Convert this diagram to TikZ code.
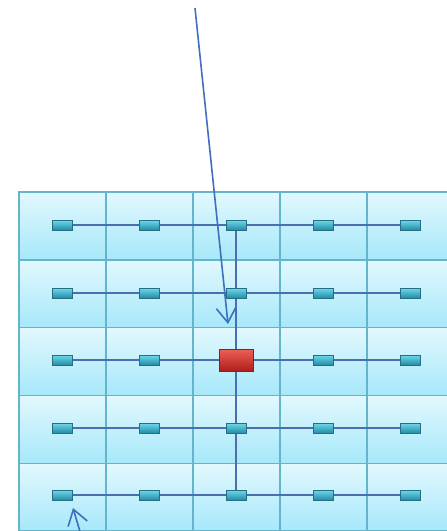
\documentclass[tikz,border=0pt]{standalone}
\usetikzlibrary{arrows.meta,shadows}
\pgfdeclarelayer{cellslayer}
\pgfdeclarelayer{lineslayer}
\pgfsetlayers{cellslayer,lineslayer,main}
\definecolor{celltop}{RGB}{226,248,254}
\definecolor{cellbot}{RGB}{166,232,250}
\definecolor{cellline}{RGB}{100,180,204}
\definecolor{nodetop}{RGB}{110,218,236}
\definecolor{nodebot}{RGB}{34,140,166}
\definecolor{nodeedge}{RGB}{40,110,130}
\definecolor{redtop}{RGB}{236,96,86}
\definecolor{redbot}{RGB}{176,30,26}
\definecolor{rededge}{RGB}{140,30,26}
\definecolor{linkcol}{RGB}{74,110,178}
\definecolor{arrowcol}{RGB}{62,112,190}
\tikzset{
  cellbox/.style={draw=cellline,line width=1.4pt,top color=celltop,bottom color=cellbot},
  smallnode/.style={rectangle,minimum width=20pt,minimum height=10pt,inner sep=0pt,
    top color=nodetop,bottom color=nodebot,draw=nodeedge,line width=0.4pt,
    drop shadow={shadow xshift=0.8pt,shadow yshift=-0.8pt,opacity=0.35}},
  bignode/.style={rectangle,minimum width=34pt,minimum height=22pt,inner sep=0pt,
    top color=redtop,bottom color=redbot,draw=rededge,line width=0.4pt,
    drop shadow={shadow xshift=0.8pt,shadow yshift=-0.8pt,opacity=0.35}},
  link/.style={draw=linkcol,line width=1.8pt},
  pointer/.style={draw=arrowcol,line width=1.6pt,-{Straight Barb[length=15pt,width=20pt,line width=1.6pt]}}
}
\begin{document}
\begin{tikzpicture}[x=1pt,y=-1pt]
\useasboundingbox (0,0) rectangle (447,531);
\clip (0,0) rectangle (447,531);
% cells
\begin{pgfonlayer}{cellslayer}
\foreach \c in {0,...,4}{
  \foreach \r in {0,...,4}{
    \path[cellbox] ({19+87*\c},{192+67.8*\r}) rectangle ({19+87*(\c+1)},{192+67.8*(\r+1)});
  }
}
\end{pgfonlayer}
% nodes
\foreach \r/\y in {1/225,2/293,3/360,4/428,5/495}{
  \foreach \c/\x in {1/62,2/149,3/236,4/323,5/410}{
    \ifnum\r=3 \ifnum\c=3 \else
      \node[smallnode] (n-\r-\c) at (\x,\y) {};
    \fi\else
      \node[smallnode] (n-\r-\c) at (\x,\y) {};
    \fi
  }
}
\node[bignode] (n-3-3) at (236,360) {};
% links
\begin{pgfonlayer}{lineslayer}
\foreach \r in {1,...,5}{
  \draw[link] (n-\r-1.center) -- (n-\r-2.center) -- (n-\r-3.center) -- (n-\r-4.center) -- (n-\r-5.center);
}
\draw[link] (n-1-3.center) -- (n-2-3.center) -- (n-3-3.center) -- (n-4-3.center) -- (n-5-3.center);
\end{pgfonlayer}
% arrows
\coordinate (topstart) at (195,8);
\coordinate (toptip) at (228,324);
\draw[pointer] (topstart) -- (toptip);
\coordinate (botstart) at (81,535);
\coordinate (bottip) at (73,508);
\draw[pointer] (botstart) -- (bottip);
\end{tikzpicture}
\end{document}
